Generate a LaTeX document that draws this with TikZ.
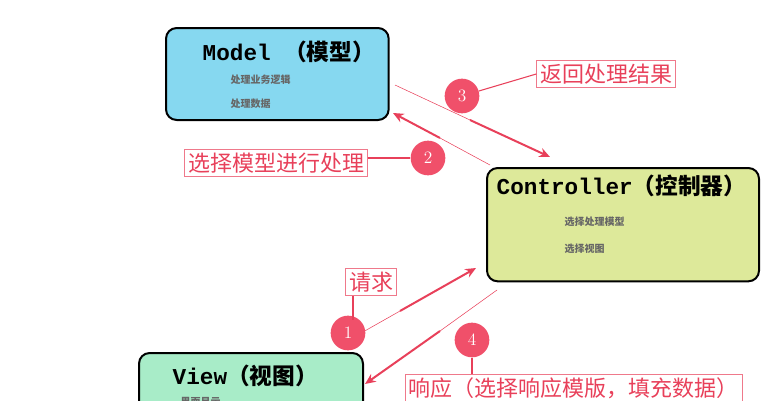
\documentclass[tikz,border=0pt]{standalone}
\usepackage{fontspec}
\setmonofont{Liberation Mono}
\newfontfamily\cjk{Noto Sans CJK SC}
\usetikzlibrary{arrows.meta}
\definecolor{red1}{HTML}{F0506A}
\definecolor{lab}{HTML}{E8405A}
\begin{document}
\begin{tikzpicture}[x=0.75pt,y=-0.75pt,
  box/.style={draw=black,line width=1.5pt,rounded corners=8pt,anchor=north west},
  title/.style={font=\fontsize{17}{20}\selectfont\bfseries,anchor=west},
  sub/.style={font=\cjk\bfseries\fontsize{7.5}{9}\selectfont,text=black!60,anchor=west},
  num/.style={circle,fill=red1,text=white,minimum size=26pt,inner sep=0pt,font=\fontsize{13}{14}\selectfont},
  lbl/.style={draw=lab!70,line width=0.6pt,text=lab,font=\cjk\fontsize{16.5}{18}\selectfont,inner sep=2.5pt},
  lk/.style={draw=lab,line width=0.8pt},
  arr/.style={draw=lab,line width=1.5pt,-{Stealth[length=8pt,width=7pt]}}]
\useasboundingbox (0,0) rectangle (782,400);
\clip (0,0) rectangle (782,400);
\node[box,fill={rgb,255:red,134;green,216;blue,240},minimum width=167pt,minimum height=69pt] (M) at (165,27) {};
\node[title] at (198,52) {\ttfamily Model {\cjk（模型）}};
\node[sub] at (226,80) {处理业务逻辑};
\node[sub] at (226,104) {处理数据};
\node[box,fill={rgb,255:red,221;green,233;blue,154},minimum width=204pt,minimum height=85pt] (C) at (486,167) {};
\node[title] at (492,186) {\ttfamily Controller{\cjk（控制器）}};
\node[sub] at (560,222) {选择处理模型};
\node[sub] at (560,249) {选择视图};
\node[box,fill={rgb,255:red,168;green,236;blue,200},minimum width=168pt,minimum height=70pt] (V) at (138,352) {};
\node[title] at (168,376) {\ttfamily View{\cjk（视图）}};
\node[sub] at (176,402) {界面显示};
% arrows
\coordinate (a3s) at (395,85); \coordinate (a3e) at (550,157);
\draw[lab,line width=0.4pt] (a3s) -- (470,120);
\draw[arr] (470,120) -- (a3e);
\coordinate (a2s) at (490,165); \coordinate (a2e) at (393,113);
\draw[lab,line width=0.4pt] (a2s) -- (440,138);
\draw[arr] (440,138) -- (a2e);
\coordinate (a1s) at (340,345); \coordinate (a1e) at (476,268);
\draw[lab,line width=0.4pt] (a1s) -- (400,311);
\draw[arr] (400,311) -- (a1e);
\coordinate (a4s) at (497,290); \coordinate (a4e) at (365,384);
\draw[lab,line width=0.4pt] (a4s) -- (440,331);
\draw[arr] (440,331) -- (a4e);
% labels
\node[lbl] (L3) at (606,74) {返回处理结果};
\node[lbl] (L2) at (276,163) {选择模型进行处理};
\node[lbl] (L1) at (371,282) {请求};
\node[lbl,anchor=north west] (L4) at (405,374) {响应（选择响应模版，填充数据）};
\node[num] (n3) at (462,96) {3};
\node[num] (n2) at (428,158) {2};
\node[num] (n1) at (348,333) {1};
\node[num] (n4) at (472,340) {4};
\draw[lk] (n3) -- (L3.west);
\draw[lk] (L2.east |- n2) -- (n2);
\draw[lk] (L1.south -| 353,0) -- (353,320);
\draw[lk] (n4) -- (L4.north west -| n4);
\end{tikzpicture}
\end{document}
